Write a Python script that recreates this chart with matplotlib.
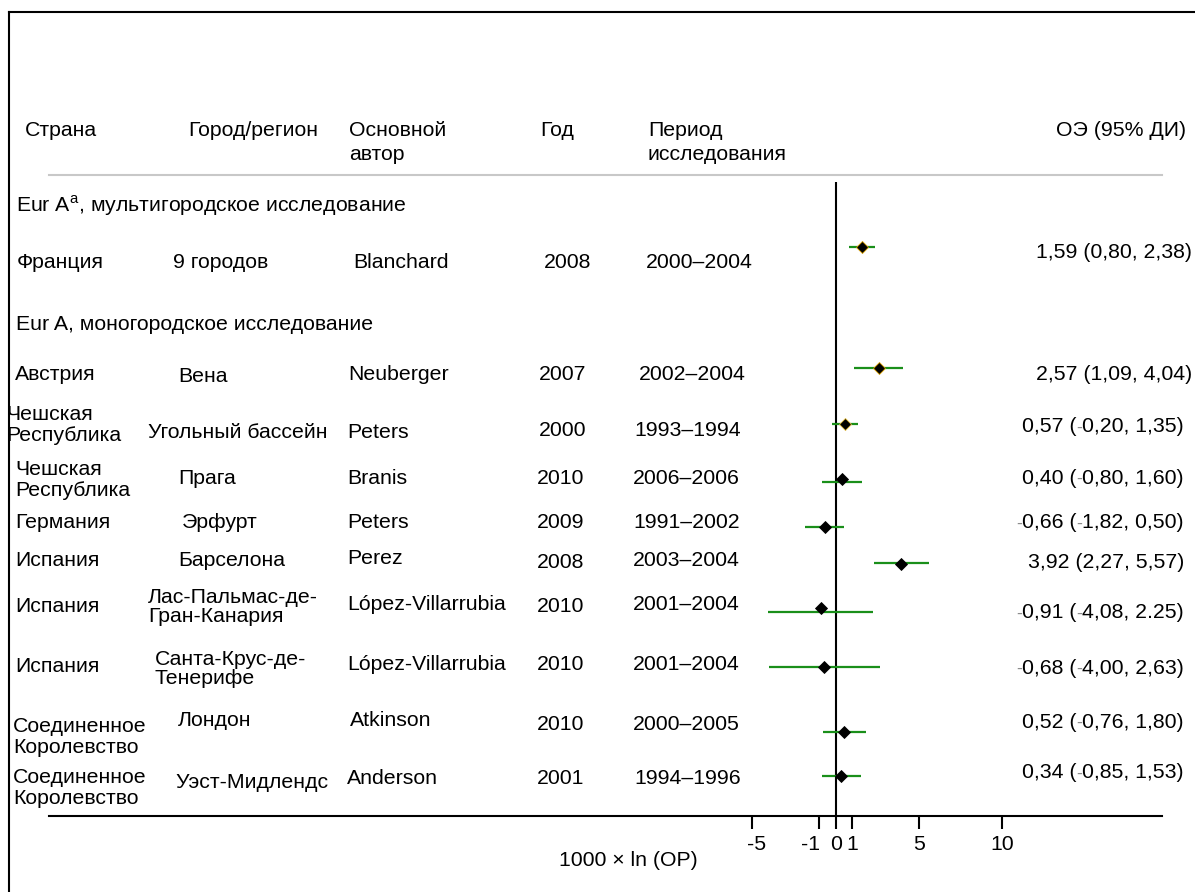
import matplotlib
matplotlib.use("Agg")
import matplotlib.pyplot as plt
from matplotlib.offsetbox import AnnotationBbox, HPacker, TextArea
from matplotlib.transforms import ScaledTranslation

plt.rcParams['font.family'] = ['Liberation Sans', 'DejaVu Sans']
plt.rcParams['mathtext.fontset'] = 'custom'
plt.rcParams['mathtext.rm'] = 'Liberation Sans'

# ---------------- data ----------------
headers = ["Страна", "Город/регион", "Основной\nавтор", "Год", "Период\nисследования", "ОЭ (95% ДИ)"]
section_labels = ["Eur A$^{\\mathrm{a}}$, мультигородское исследование", "Eur A, моногородское исследование"]
countries = ["Франция", "Австрия", "Чешская\nРеспублика", "Чешская\nРеспублика", "Германия",
             "Испания", "Испания", "Испания", "Соединенное\nКоролевство", "Соединенное\nКоролевство"]
cities = ["9 городов", "Вена", "Угольный бассейн", "Прага", "Эрфурт", "Барселона",
          "Лас-Пальмас-де-\nГран-Канария", "Санта-Крус-де-\nТенерифе", "Лондон", "Уэст-Мидлендс"]
authors = ["Blanchard", "Neuberger", "Peters", "Branis", "Peters", "Perez",
           "López-Villarrubia", "López-Villarrubia", "Atkinson", "Anderson"]
years = ["2008", "2007", "2000", "2010", "2009", "2008", "2010", "2010", "2010", "2001"]
periods = ["2000–2004", "2002–2004", "1993–1994", "2006–2006", "1991–2002", "2003–2004",
           "2001–2004", "2001–2004", "2000–2005", "1994–1996"]
estimate = [1.59, 2.57, 0.57, 0.40, -0.66, 3.92, -0.91, -0.68, 0.52, 0.34]
ci_low = [0.80, 1.09, -0.20, -0.80, -1.82, 2.27, -4.08, -4.00, -0.76, -0.85]
ci_high = [2.38, 4.04, 1.35, 1.60, 0.50, 5.57, 2.25, 2.63, 1.80, 1.53]
est_labels = ["1,59 (0,80, 2,38)", "2,57 (1,09, 4,04)", "0,57 (-0,20, 1,35)", "0,40 (-0,80, 1,60)",
              "-0,66 (-1,82, 0,50)", "3,92 (2,27, 5,57)", "-0,91 (-4,08, 2.25)", "-0,68 (-4,00, 2,63)",
              "0,52 (-0,76, 1,80)", "0,34 (-0,85, 1,53)"]
xticks = [-5, -1, 0, 1, 5, 10]
xticklabels = ["-5", "-1", "0", "1", "5", "10"]
xlabel = "1000 × ln (OP)"

# ---------------- layout (pixels) ----------------
W, H = 1195, 892
FS = 15.3
row_y_text = [263, 375, 425, 480, 523, 560, 607, 667, 737, 788]
city_y = [263, 377, 433, 478, 523, 561, 607, 669, 720, 783]
auth_y = [263, 375, 433, 478, 523, 559, 604, 665, 720, 778]
year_y = [263, 375, 431, 478, 523, 562, 607, 665, 725, 778]
per_y = [263, 375, 431, 478, 522, 560, 604, 665, 725, 778]
marker_y = [247, 368, 424, 479, 527, 564, 608, 667, 732, 776]
ci_y = [247, 368, 424, 482, 527, 563, 612, 667, 732, 776]
est_y = [253, 375, 427, 478, 523, 562, 613, 668, 722, 773]
est_right = [1192, 1192, 1184, 1184, 1184, 1184, 1184, 1184, 1184, 1184]
country_x = [17, 15, 6, 15, 15, 15, 15, 15, 13, 13]
city_x = [173, 178, 148, 178, 182, 178, 148, 155, 178, 175]
auth_x = [353, 348, 347, 347, 347, 347, 347, 347, 350, 347]
year_x = [544, 539, 539, 537, 537, 537, 537, 537, 537, 537]
per_x = [646, 639, 634, 633, 633, 633, 633, 633, 633, 634]
tick_label_dx = [4, -9, 0, 0, 0, 0]
edge_cols = ['#d8a000', '#d8a000', '#e8c040', 'black', 'black', 'black', 'black', 'black', 'black', 'black']
MINUS_COLOR = '#8c8c8c'

fig = plt.figure(figsize=(W / 100, H / 100), dpi=100)
fig.patch.set_facecolor('white')

# text / decoration axes in pixel coordinates
ax_t = fig.add_axes([0, 0, 1, 1])
ax_t.set_xlim(0, W)
ax_t.set_ylim(H, 0)
ax_t.axis('off')

# forest axes
x0_px, px_per_unit = 835.7, 16.67
ax_left, ax_right, ax_top, ax_bot = 49, 1162, 182, 815.7
ax_f = fig.add_axes([ax_left / W, (H - ax_bot) / H, (ax_right - ax_left) / W, (ax_bot - ax_top) / H])
ax_f.set_xlim((ax_left - x0_px) / px_per_unit, (ax_right - x0_px) / px_per_unit)
ax_f.set_ylim(ax_bot, ax_top)
ax_f.patch.set_alpha(0)
for s in ['top', 'left', 'right']:
    ax_f.spines[s].set_visible(False)
ax_f.spines['bottom'].set_linewidth(1.5)
ax_f.set_yticks([])
ax_f.set_xticks(xticks)
ax_f.set_xticklabels(xticklabels, fontsize=FS)
ax_f.tick_params(axis='x', direction='out', length=9, width=1.5, pad=5)
for lab, dx in zip(ax_f.get_xticklabels(), tick_label_dx):
    lab.set_transform(lab.get_transform() + ScaledTranslation(dx / 100, 0, fig.dpi_scale_trans))
ax_f.axvline(0, color='black', lw=1.5, zorder=1)

for i in range(len(estimate)):
    ax_f.plot([ci_low[i], ci_high[i]], [ci_y[i], ci_y[i]], color='#1a8f1a', lw=1.6, zorder=2,
              solid_capstyle='butt')
    ax_f.plot(estimate[i], marker_y[i], marker='D', ms=6.5, color='black',
              mec=edge_cols[i], mew=0.6, zorder=3)

# header
hy1, hy2 = 131, 155
ax_t.text(25, hy1, headers[0], fontsize=FS, va='center', ha='left')
ax_t.text(188, hy1, headers[1], fontsize=FS, va='center', ha='left')
h2 = headers[2].split("\n")
ax_t.text(349, hy1, h2[0], fontsize=FS, va='center', ha='left')
ax_t.text(349, hy2, h2[1], fontsize=FS, va='center', ha='left')
ax_t.text(540, hy1, headers[3], fontsize=FS, va='center', ha='left')
h4 = headers[4].split("\n")
ax_t.text(648, hy1, h4[0], fontsize=FS, va='center', ha='left')
ax_t.text(648, hy2, h4[1], fontsize=FS, va='center', ha='left')
ax_t.text(1186, hy1, headers[5], fontsize=FS, va='center', ha='right')

ax_t.plot([49, 1162], [175, 175], color='#c8c8c8', lw=1.5)

ax_t.text(16, 206, section_labels[0], fontsize=FS, va='center', ha='left')
ax_t.text(16, 325, section_labels[1], fontsize=FS, va='center', ha='left')


def minus_label(s, x, y):
    parts = []
    buf = ""
    for ch in s:
        if ch == "-":
            if buf:
                parts.append(TextArea(buf, textprops=dict(fontsize=FS, color='black')))
                buf = ""
            parts.append(TextArea("-", textprops=dict(fontsize=FS * 0.85, color=MINUS_COLOR)))
        else:
            buf += ch
    if buf:
        parts.append(TextArea(buf, textprops=dict(fontsize=FS, color='black')))
    box = HPacker(children=parts, align='baseline', pad=0, sep=0)
    ab = AnnotationBbox(box, (x, y), xycoords='data', box_alignment=(1, 0.5),
                        frameon=False, pad=0, annotation_clip=False)
    ax_t.add_artist(ab)


for i in range(len(countries)):
    ax_t.text(country_x[i], row_y_text[i], countries[i], fontsize=FS, va='center', ha='left',
              linespacing=1.08)
    ax_t.text(city_x[i], city_y[i], cities[i], fontsize=FS, va='center', ha='left', linespacing=1.05)
    ax_t.text(auth_x[i], auth_y[i], authors[i], fontsize=FS, va='center', ha='left')
    ax_t.text(year_x[i], year_y[i], years[i], fontsize=FS, va='center', ha='left')
    ax_t.text(per_x[i], per_y[i], periods[i], fontsize=FS, va='center', ha='left')
    minus_label(est_labels[i], est_right[i], est_y[i])

ax_t.text(628, 860, xlabel, fontsize=FS, va='center', ha='center')

# border (left and top)
ax_t.plot([9, 9], [12, H + 5], color='black', lw=1.5, zorder=10, solid_capstyle='projecting')
ax_t.plot([9, W + 5], [12, 12], color='black', lw=1.5, zorder=10, solid_capstyle='projecting')

fig.savefig("out.png", dpi=100, facecolor='white')
